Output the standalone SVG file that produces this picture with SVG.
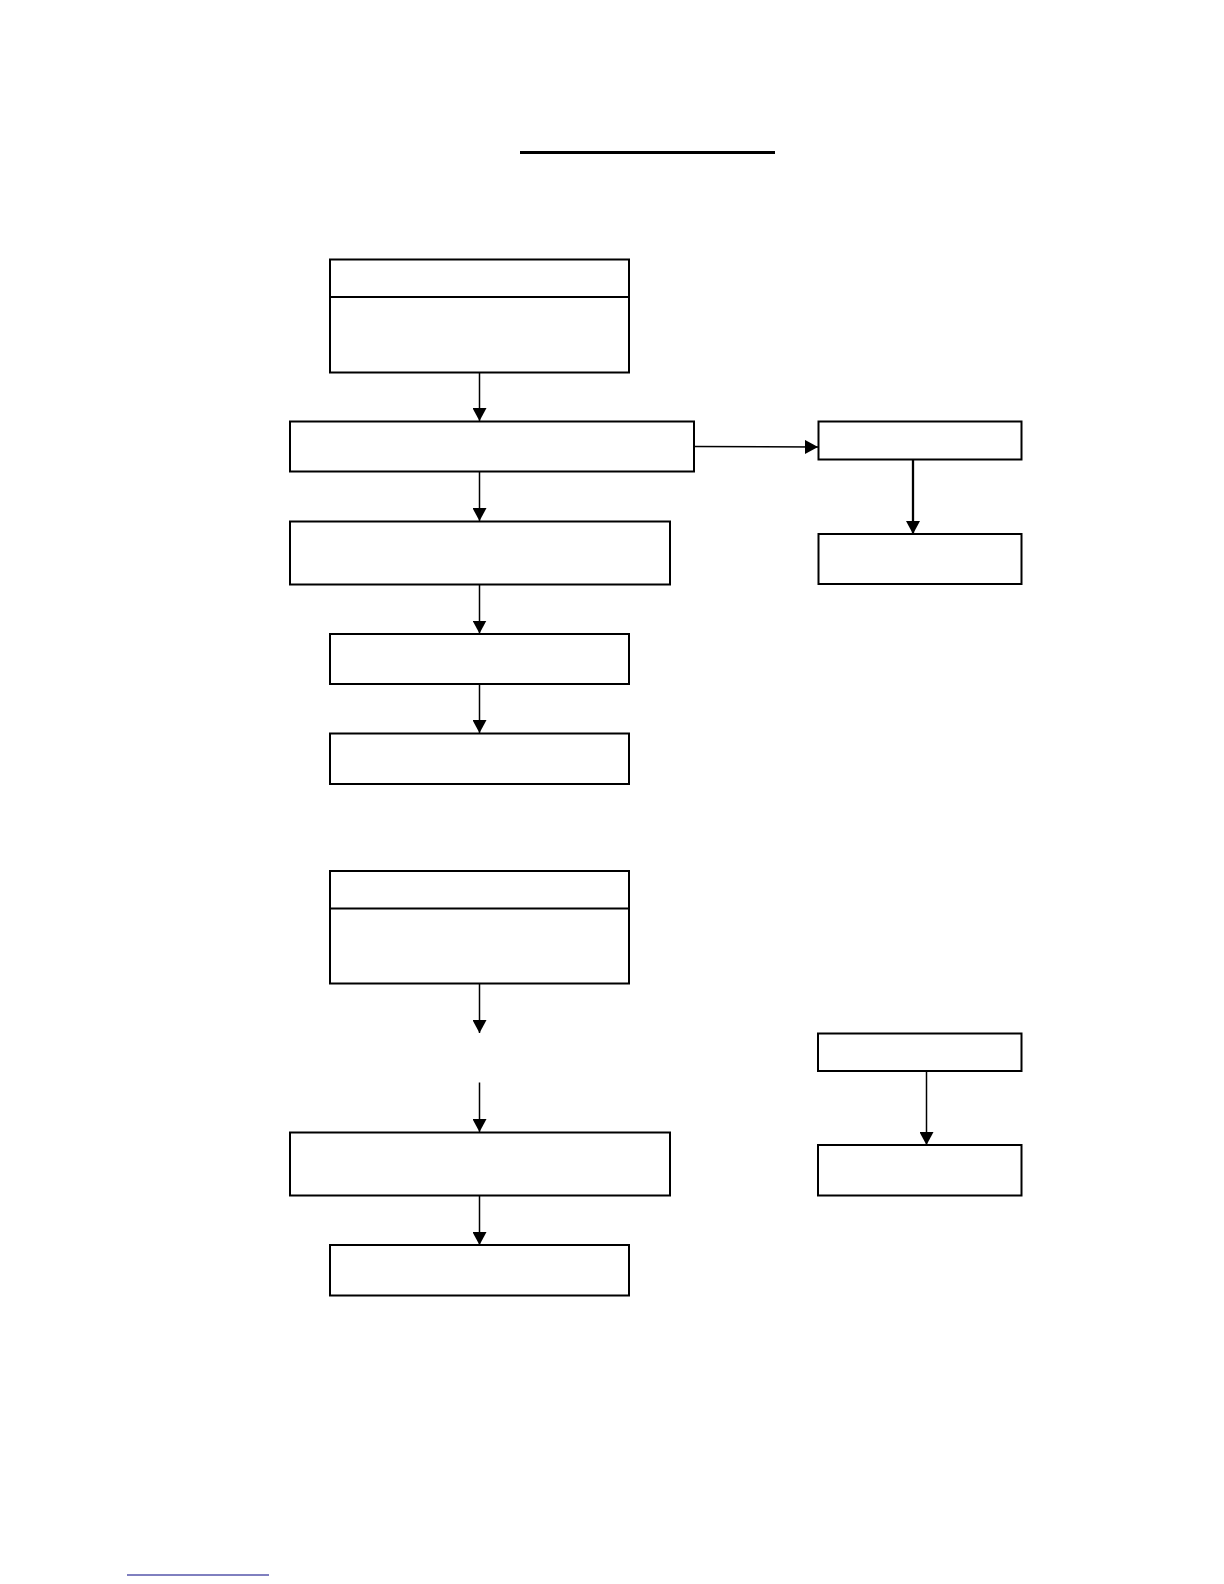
<svg xmlns="http://www.w3.org/2000/svg" width="1224" height="1584" viewBox="0 0 1224 1584">
<style>
.box{fill:#fff;stroke:#000;stroke-width:2}
.div{stroke:#000;stroke-width:2}
.conn{stroke:#000;stroke-width:1.5;fill:none}
.thick{stroke-width:2.3}
</style>
<defs>
<marker id="ah" markerUnits="userSpaceOnUse" markerWidth="14" markerHeight="14" refX="13" refY="7" orient="auto">
<path d="M0,0 L13,7 L0,14 z" fill="#000"/>
</marker>
</defs>
<rect width="1224" height="1584" fill="#fff"/>
<line x1="520" y1="152.5" x2="775" y2="152.5" stroke="#000" stroke-width="3"/>
<g id="n1"><rect class="box" x="330" y="259.5" width="299" height="113"/><line class="div" x1="330" y1="297" x2="629" y2="297"/></g>
<g id="n2"><rect class="box" x="290" y="421.5" width="404" height="50"/></g>
<g id="n3"><rect class="box" x="818.5" y="421.5" width="203" height="38"/></g>
<g id="n4"><rect class="box" x="818.5" y="534" width="203" height="50"/></g>
<g id="n5"><rect class="box" x="290" y="521.5" width="380" height="63"/></g>
<g id="n6"><rect class="box" x="330" y="634" width="299" height="50"/></g>
<g id="n7"><rect class="box" x="330" y="733.5" width="299" height="50.5"/></g>
<g id="n8"><rect class="box" x="330" y="871" width="299" height="112.5"/><line class="div" x1="330" y1="908.5" x2="629" y2="908.5"/></g>
<g id="n9"><rect class="box" x="290" y="1132.5" width="380" height="63"/></g>
<g id="n10"><rect class="box" x="330" y="1245" width="299" height="50.5"/></g>
<g id="n11"><rect class="box" x="818" y="1033.5" width="203.5" height="37.5"/></g>
<g id="n12"><rect class="box" x="818" y="1145" width="203.5" height="50.5"/></g>
<g id="connectors">
<line class="conn" x1="479.5" y1="372.5" x2="479.5" y2="421" marker-end="url(#ah)"/>
<line class="conn" x1="694" y1="446.5" x2="818" y2="447" marker-end="url(#ah)"/>
<line class="conn thick" x1="913" y1="459.5" x2="913" y2="534" marker-end="url(#ah)"/>
<line class="conn" x1="479.5" y1="471.5" x2="479.5" y2="521" marker-end="url(#ah)"/>
<line class="conn" x1="479.5" y1="584.5" x2="479.5" y2="633.5" marker-end="url(#ah)"/>
<line class="conn" x1="479.5" y1="684" x2="479.5" y2="733" marker-end="url(#ah)"/>
<line class="conn" x1="479.5" y1="983.5" x2="479.5" y2="1033" marker-end="url(#ah)"/>
<line class="conn" x1="479.5" y1="1082.5" x2="479.5" y2="1132" marker-end="url(#ah)"/>
<line class="conn" x1="479.5" y1="1195.5" x2="479.5" y2="1245" marker-end="url(#ah)"/>
<line class="conn" x1="926.5" y1="1071" x2="926.5" y2="1145" marker-end="url(#ah)"/>
</g>
<line x1="127" y1="1575" x2="269" y2="1575" stroke="#000080" stroke-width="1"/>
</svg>
